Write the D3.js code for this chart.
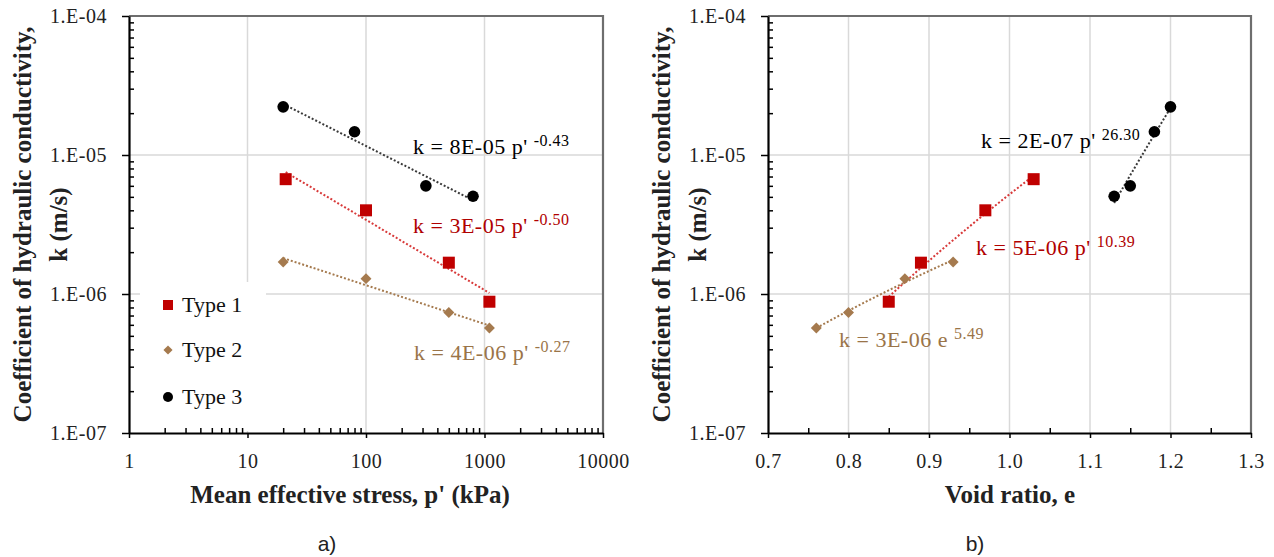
<!DOCTYPE html>
<html>
<head>
<meta charset="utf-8">
<script src="https://cdn.jsdelivr.net/npm/d3@7"></script>
<style>
  body { margin: 0; background: #fff; }
  svg text { font-family: "Liberation Serif", "Times New Roman", serif; }
</style>
</head>
<body>
<svg id="fig" width="1274" height="557"></svg>
<script>
// values
var typeNames = ["Type 1", "Type 2", "Type 3"];
var stress1 = [21, 100, 500, 1100];
var stress2 = [20, 100, 500, 1100];
var stress3 = [20, 80, 320, 800];
var voids1 = [1.03, 0.97, 0.89, 0.85];
var voids2 = [0.93, 0.87, 0.80, 0.76];
var voids3 = [1.20, 1.18, 1.15, 1.13];
var perm1 = [6.7e-6, 4.0e-6, 1.68e-6, 8.8e-7];
var perm2 = [1.7e-6, 1.29e-6, 7.35e-7, 5.7e-7];
var perm3 = [2.22e-5, 1.47e-5, 6.0e-6, 5.05e-6];

var permTicks = [1e-7, 1e-6, 1e-5, 1e-4];
var permTickLabels = ["1.E-07", "1.E-06", "1.E-05", "1.E-04"];
var stressTicks = [1, 10, 100, 1000, 10000];
var stressTickLabels = ["1", "10", "100", "1000", "10000"];
var voidTicks = [0.7, 0.8, 0.9, 1.0, 1.1, 1.2, 1.3];
var voidTickLabels = ["0.7", "0.8", "0.9", "1.0", "1.1", "1.2", "1.3"];

// trendline labels as printed on the chart
var stressEqCoef = ["3E-05", "4E-06", "8E-05"];
var stressEqVar = ["p'", "p'", "p'"];
var stressEqExp = ["-0.50", "-0.27", "-0.43"];
var voidEqCoef = ["5E-06", "3E-06", "2E-07"];
var voidEqVar = ["p'", "e", "p'"];
var voidEqExp = ["10.39", "5.49", "26.30"];

var markColor = ["#c00000", "#a57a4e", "#000000"];
var trendColor = ["#d83a3a", "#a57a4e", "#3a3a3a"];
var textColor = ["#b00000", "#9a7448", "#000000"];

var svg = d3.select("#fig");

function fitPower(xs, ks) {
  // least squares of log k against log x (Excel power trendline)
  var lx = xs.map(function(v){ return Math.log10(v); }),
      ly = ks.map(function(v){ return Math.log10(v); });
  var mx = d3.mean(lx), my = d3.mean(ly);
  var b = d3.sum(lx, function(v, i){ return (v - mx) * (ly[i] - my); }) /
          d3.sum(lx, function(v){ return (v - mx) * (v - mx); });
  return {a: Math.pow(10, my - b * mx), b: b};
}

function panel(o) {
  var g = svg.append("g");
  var x = o.x, y = o.y;
  var L = o.left, R = o.right, T = o.top, B = o.bottom;

  // gridlines
  g.selectAll(".gx").data(o.xTicks.slice(1, -1)).enter().append("line")
    .attr("x1", function(d){ return x(d); }).attr("x2", function(d){ return x(d); })
    .attr("y1", T).attr("y2", B)
    .attr("stroke", "#d9d9d9").attr("stroke-width", 1.5);
  g.selectAll(".gy").data(permTicks.slice(1, -1)).enter().append("line")
    .attr("x1", L).attr("x2", R)
    .attr("y1", function(d){ return y(d); }).attr("y2", function(d){ return y(d); })
    .attr("stroke", "#d9d9d9").attr("stroke-width", 1.5);

  // legend box hides grid behind it
  if (o.legend) {
    g.append("rect").attr("x", L + 11).attr("y", 282).attr("width", 126).attr("height", B - 284)
      .attr("fill", "#fff");
  }

  // frame
  g.append("path")
    .attr("d", "M" + L + "," + T + "H" + R + "V" + B)
    .attr("fill", "none").attr("stroke", "#6e6e6e").attr("stroke-width", 2.2);

  // minor ticks, pointing inward
  g.append("g").attr("transform", "translate(" + L + ",0)")
    .call(d3.axisRight(y).tickValues(o.yMinor).tickSize(5).tickFormat(""))
    .call(function(a){ a.select(".domain").remove(); })
    .selectAll("line").attr("stroke", "#000").attr("stroke-width", 1.5);
  g.append("g").attr("transform", "translate(0," + B + ")")
    .call(d3.axisTop(x).tickValues(o.xMinor).tickSize(5).tickFormat(""))
    .call(function(a){ a.select(".domain").remove(); })
    .selectAll("line").attr("stroke", "#000").attr("stroke-width", 1.5);

  // major axes
  var ya = g.append("g").attr("transform", "translate(" + L + ",0)")
    .call(d3.axisLeft(y).tickValues(permTicks).tickSize(7).tickSizeOuter(0).tickPadding(15)
      .tickFormat(function(d, i){ return permTickLabels[i]; }));
  var xa = g.append("g").attr("transform", "translate(0," + B + ")")
    .call(d3.axisBottom(x).tickValues(o.xTicks).tickSize(5).tickSizeOuter(0).tickPadding(16)
      .tickFormat(function(d, i){ return o.xLabels[i]; }));
  [ya, xa].forEach(function(a){
    a.select(".domain").attr("stroke", "#000").attr("stroke-width", 2.2);
    a.selectAll(".tick line").attr("stroke", "#000").attr("stroke-width", 1.5);
    a.selectAll("text").attr("font-size", 20)
      .attr("fill", "#222").style("letter-spacing", "0.5px");
  });

  // axis titles
  g.append("text").attr("x", o.xTitleX).attr("y", 503).attr("text-anchor", "middle")
    .attr("font-size", 25).attr("font-weight", "bold").attr("fill", "#222").text(o.xTitle);
  var yt = g.append("text").attr("transform", "rotate(-90)").attr("text-anchor", "middle")
    .attr("font-size", 25).attr("font-weight", "bold").attr("fill", "#222");
  yt.append("tspan").attr("x", -(T + B) / 2).attr("y", L - 98).text("Coefficient of hydraulic conductivity,");
  yt.append("tspan").attr("x", -(T + B) / 2).attr("y", L - 62).text("k (m/s)");

  // panel tag (sans, unlike the chart text)
  g.append("text").attr("x", o.tagX).attr("y", 551).attr("text-anchor", "middle")
    .style("font-family", "'Liberation Sans', Arial, sans-serif").attr("font-size", 21)
    .attr("fill", "#222").text(o.tag);

  // trendlines
  o.xs.forEach(function(xs, i) {
    var f = fitPower(xs, o.ks[i]);
    var ext = d3.extent(xs);
    var pts = d3.range(0, 31).map(function(j){
      var v = ext[0] + (ext[1] - ext[0]) * j / 30;
      return [v, f.a * Math.pow(v, f.b)];
    });
    g.append("path").datum(pts)
      .attr("d", d3.line().x(function(d){ return x(d[0]); }).y(function(d){ return y(d[1]); }))
      .attr("fill", "none").attr("stroke", trendColor[i]).attr("stroke-width", 2)
      .attr("stroke-dasharray", "2,2");
  });

  // markers
  var shapes = [
    function(s){ return s.append("rect").attr("x", -6).attr("y", -6).attr("width", 12).attr("height", 12); },
    function(s){ return s.append("path").attr("d", d3.symbol(d3.symbolSquare, 60)()).attr("transform", "rotate(45)"); },
    function(s){ return s.append("circle").attr("r", 5.8); }
  ];
  o.xs.forEach(function(xs, i) {
    var pts = xs.map(function(v, j){ return [v, o.ks[i][j]]; });
    var m = g.selectAll(".m" + i).data(pts).enter().append("g")
      .attr("transform", function(d){ return "translate(" + x(d[0]) + "," + y(d[1]) + ")"; });
    shapes[i](m).attr("fill", markColor[i]);
  });

  // equations
  o.eqPos.forEach(function(p, i) {
    var t = g.append("text").attr("x", p[0]).attr("y", p[1]).attr("font-size", 22)
      .attr("fill", textColor[i]).style("letter-spacing", "0.5px");
    t.append("tspan").text("k = " + o.eqCoef[i] + " " + o.eqVar[i] + " ");
    t.append("tspan").attr("font-size", 16).attr("dy", -8).text(o.eqExp[i]);
  });

  // legend
  if (o.legend) {
    var ly = [305, 350, 397];
    typeNames.forEach(function(n, i) {
      var it = g.append("g").attr("transform", "translate(" + (L + 39) + "," + ly[i] + ")");
      if (i === 0) it.append("rect").attr("x", -5).attr("y", -5).attr("width", 10).attr("height", 10).attr("fill", markColor[0]);
      if (i === 1) it.append("path").attr("d", d3.symbol(d3.symbolSquare, 42)()).attr("transform", "rotate(45)").attr("fill", markColor[1]);
      if (i === 2) it.append("circle").attr("r", 5).attr("fill", markColor[2]);
      it.append("text").attr("x", 14).attr("dy", "0.33em").attr("font-size", 22).attr("fill", "#111").text(n);
    });
  }
}

var T = 16, B = 433;

var decadeMinor = function(lo, hi) {
  var out = [];
  for (var d = lo; d < hi; d *= 10) for (var m = 2; m <= 9; m++) out.push(d * m);
  return out;
};

// a) against mean effective stress
var xs1 = d3.scaleLog().domain([1, 10000]).range([129, 603]);
var yk1 = d3.scaleLog().domain([1e-7, 1e-4]).range([B, T]);
panel({
  left: 129, right: 603, top: T, bottom: B, x: xs1, y: yk1,
  xTicks: stressTicks, xLabels: stressTickLabels, xMinor: decadeMinor(1, 10000),
  yMinor: decadeMinor(1e-7, 1e-4),
  xTitle: "Mean effective stress, p' (kPa)", xTitleX: 350,
  xs: [stress1, stress2, stress3], ks: [perm1, perm2, perm3],
  eqCoef: stressEqCoef, eqVar: stressEqVar, eqExp: stressEqExp,
  eqPos: [[413, 233], [414, 360], [413, 154]],
  legend: true, tag: "a)", tagX: 327
});

// b) against void ratio
var xs2 = d3.scaleLinear().domain([0.7, 1.3]).range([768, 1251]);
var yk2 = d3.scaleLog().domain([1e-7, 1e-4]).range([B, T]);
panel({
  left: 768, right: 1251, top: T, bottom: B, x: xs2, y: yk2,
  xTicks: voidTicks, xLabels: voidTickLabels, xMinor: d3.range(0.75, 1.3, 0.1),
  yMinor: decadeMinor(1e-7, 1e-4),
  xTitle: "Void ratio, e", xTitleX: 1010,
  xs: [voids1, voids2, voids3], ks: [perm1, perm2, perm3],
  eqCoef: voidEqCoef, eqVar: voidEqVar, eqExp: voidEqExp,
  eqPos: [[976, 255], [839, 347], [981, 148]],
  legend: false, tag: "b)", tagX: 975
});
</script>
</body>
</html>
